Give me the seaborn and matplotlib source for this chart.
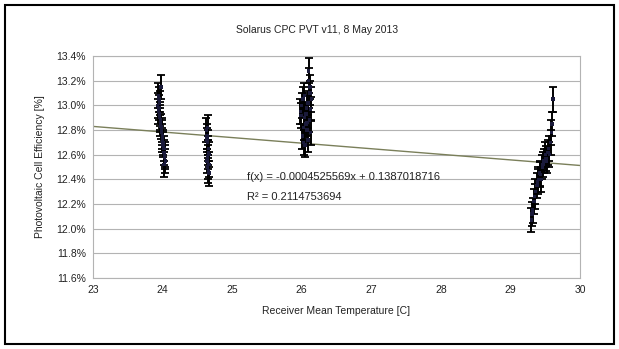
import matplotlib
matplotlib.use("Agg")
import matplotlib.pyplot as plt
import seaborn as sns
import pandas as pd
from matplotlib.ticker import FuncFormatter, MultipleLocator
from matplotlib.patches import Rectangle

# ---- data (temperature [C], efficiency [%]) ----
x1 = [23.93, 23.94, 23.95, 23.96, 23.97, 23.98, 23.99, 24.00, 24.01, 24.02, 24.03, 24.04,
      23.95, 23.97, 24.00, 24.02, 23.94, 23.96, 23.98, 24.01, 24.03, 23.99, 24.02, 23.96]
y1 = [13.00, 12.95, 13.05, 12.90, 12.85, 13.15, 12.80, 12.75, 12.70, 12.65, 12.60, 12.55,
      12.98, 12.88, 12.72, 12.62, 13.08, 12.93, 12.83, 12.68, 12.58, 12.78, 12.52, 13.02]
x2 = [24.63, 24.64, 24.65, 24.66, 24.67, 24.64, 24.65, 24.66, 24.65, 24.67, 24.64, 24.66, 24.65, 24.67]
y2 = [12.80, 12.75, 12.70, 12.65, 12.60, 12.55, 12.50, 12.47, 12.82, 12.45, 12.72, 12.62, 12.58, 12.52]
x3 = [25.98, 26.00, 26.02, 26.04, 26.06, 26.08, 26.10, 26.12, 26.14, 26.01, 26.03, 26.05, 26.07,
      26.09, 26.11, 26.13, 26.10, 26.12, 25.99, 26.03, 26.06, 26.09, 26.13, 26.04, 26.08]
y3 = [12.95, 13.00, 13.05, 12.90, 12.85, 12.80, 13.28, 13.15, 13.05, 12.75, 12.70, 12.68, 12.98,
      13.02, 12.88, 12.78, 13.20, 13.10, 12.92, 12.82, 12.93, 12.72, 12.97, 13.08, 12.86]
x4 = [29.30, 29.32, 29.34, 29.36, 29.38, 29.40, 29.42, 29.44, 29.46, 29.48, 29.50, 29.52, 29.54,
      29.56, 29.58, 29.60, 29.61, 29.31, 29.35, 29.39, 29.43, 29.47, 29.51, 29.55, 29.59]
y4 = [12.07, 12.15, 12.22, 12.30, 12.35, 12.40, 12.45, 12.40, 12.50, 12.55, 12.60, 12.55, 12.62,
      12.60, 12.70, 12.85, 13.05, 12.12, 12.26, 12.38, 12.44, 12.52, 12.57, 12.65, 12.78]
err = 0.10  # error bar half-width [%]

slope = -0.0004525569
intercept = 0.1387018716
r2 = 0.2114753694
trend_x = [23, 30]

title = "Solarus CPC PVT v11, 8 May 2013"
xlabel = "Receiver Mean Temperature [C]"
ylabel = "Photovoltaic Cell Efficiency [%]"

df = pd.DataFrame({"T": x1 + x2 + x3 + x4, "eff": y1 + y2 + y3 + y4})
trend = pd.DataFrame({"T": trend_x, "eff": [100 * (slope * t + intercept) for t in trend_x]})

sns.set_theme(style="white")
plt.rcParams["font.family"] = ["Liberation Sans", "DejaVu Sans"]
fs = 7.5

fig = plt.figure(figsize=(6.19, 3.49), dpi=100)
ax = fig.add_axes([0.150, 0.2034, 0.937 - 0.150, 0.8395 - 0.2034])

ax.errorbar(df["T"], df["eff"], yerr=err, fmt="none", ecolor="black",
            elinewidth=1.4, capsize=3, capthick=1.3, zorder=3)
sns.scatterplot(data=df, x="T", y="eff", ax=ax, color="#1a1a3a", s=6,
                marker="s", edgecolor="none", zorder=4)
sns.lineplot(data=trend, x="T", y="eff", ax=ax, color="#7a7f5a", lw=1, zorder=2)

ax.set_xlim(23, 30)
ax.set_ylim(11.6, 13.4)
ax.xaxis.set_major_locator(MultipleLocator(1))
ax.yaxis.set_major_locator(MultipleLocator(0.2))
ax.yaxis.set_major_formatter(FuncFormatter(lambda v, p: f"{v:.1f}%"))
ax.grid(axis="y", color="#b3b3b3", lw=0.8)
ax.grid(axis="x", visible=False)
for s in ax.spines.values():
    s.set_color("#b3b3b3")
    s.set_linewidth(0.8)
ax.tick_params(axis="both", direction="out", length=3, width=0.8, color="#b3b3b3",
               labelsize=fs, pad=2, colors="#b3b3b3", labelcolor="#222222")
ax.set_xlabel(xlabel, fontsize=fs, color="#222222", labelpad=8)
ax.set_ylabel(ylabel, fontsize=fs, color="#222222", labelpad=8)

fig.text(0.513, 0.914, title, ha="center", va="center", fontsize=fs, color="#222222")
ax.text(25.21, 12.42, f"f(x) = {slope:.10f}x + {intercept:.10f}", fontsize=fs + 0.5,
        color="#222222", va="center", ha="left")
ax.text(25.21, 12.26, f"R² = {r2:.10f}", fontsize=fs + 0.5,
        color="#222222", va="center", ha="left")

fig.patches.append(Rectangle((5 / 619, 5 / 349), 609 / 619, 339 / 349,
                             transform=fig.transFigure, fill=False,
                             edgecolor="black", lw=1.5))

fig.savefig("out.png", dpi=100, facecolor="white")
